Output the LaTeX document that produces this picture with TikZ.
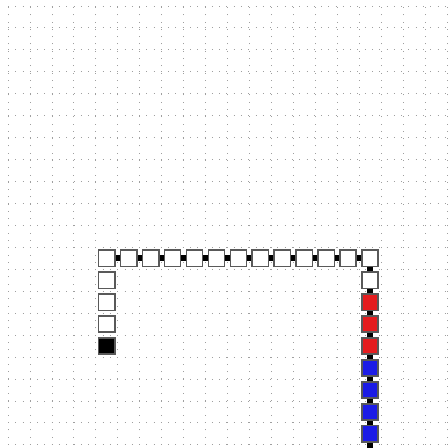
\documentclass[tikz,border=0pt]{standalone}
\usetikzlibrary{backgrounds}
\definecolor{segred}{RGB}{228,28,30}
\definecolor{segblue}{RGB}{28,28,230}
\tikzset{
  cell/.style={draw=black!65, line width=1pt, minimum size=0.37cm, inner sep=0pt, fill=white},
  redcell/.style={cell, fill=segred},
  bluecell/.style={cell, fill=segblue},
  blackcell/.style={cell, fill=black},
  link/.style={line width=4pt, black},
  gridline/.style={gray!75, line width=0.5pt, dash pattern=on 0.6pt off 4.12pt}
}
\begin{document}
\begin{tikzpicture}[x=0.5cm,y=0.5cm]
\useasboundingbox (-0.365,-0.14) rectangle (20.05,20.27);
\begin{pgfonlayer}{background}
  \foreach \k in {0,...,20} {
    \draw[gridline] (\k,0) -- (\k,20);
    \draw[gridline] (0,\k) -- (20,\k);
  }
\end{pgfonlayer}
% top row
\foreach \c in {4,...,16} {
  \node[cell] (t\c) at (\c+0.5,8.5) {};
}
% left column
\node[cell] (l12) at (4.5,7.5) {};
\node[cell] (l13) at (4.5,6.5) {};
\node[cell] (l14) at (4.5,5.5) {};
\node[blackcell] (l15) at (4.5,4.5) {};
% right column
\node[cell] (r12) at (16.5,7.5) {};
\node[redcell] (r13) at (16.5,6.5) {};
\node[redcell] (r14) at (16.5,5.5) {};
\node[redcell] (r15) at (16.5,4.5) {};
\node[bluecell] (r16) at (16.5,3.5) {};
\node[bluecell] (r17) at (16.5,2.5) {};
\node[bluecell] (r18) at (16.5,1.5) {};
\node[bluecell] (r19) at (16.5,0.5) {};
\coordinate (tail) at (16.5,-0.14);
\begin{pgfonlayer}{background}
  \foreach \a/\b in {4/5,5/6,6/7,7/8,8/9,9/10,10/11,11/12,12/13,13/14,14/15,15/16} {
    \draw[link] (t\a.center) -- (t\b.center);
  }
  \draw[link] (t16.center) -- (r12.center);
  \foreach \a/\b in {12/13,13/14,14/15,15/16,16/17,17/18,18/19} {
    \draw[link] (r\a.center) -- (r\b.center);
  }
  \draw[link] (r19.center) -- (tail);
\end{pgfonlayer}
\end{tikzpicture}
\end{document}
